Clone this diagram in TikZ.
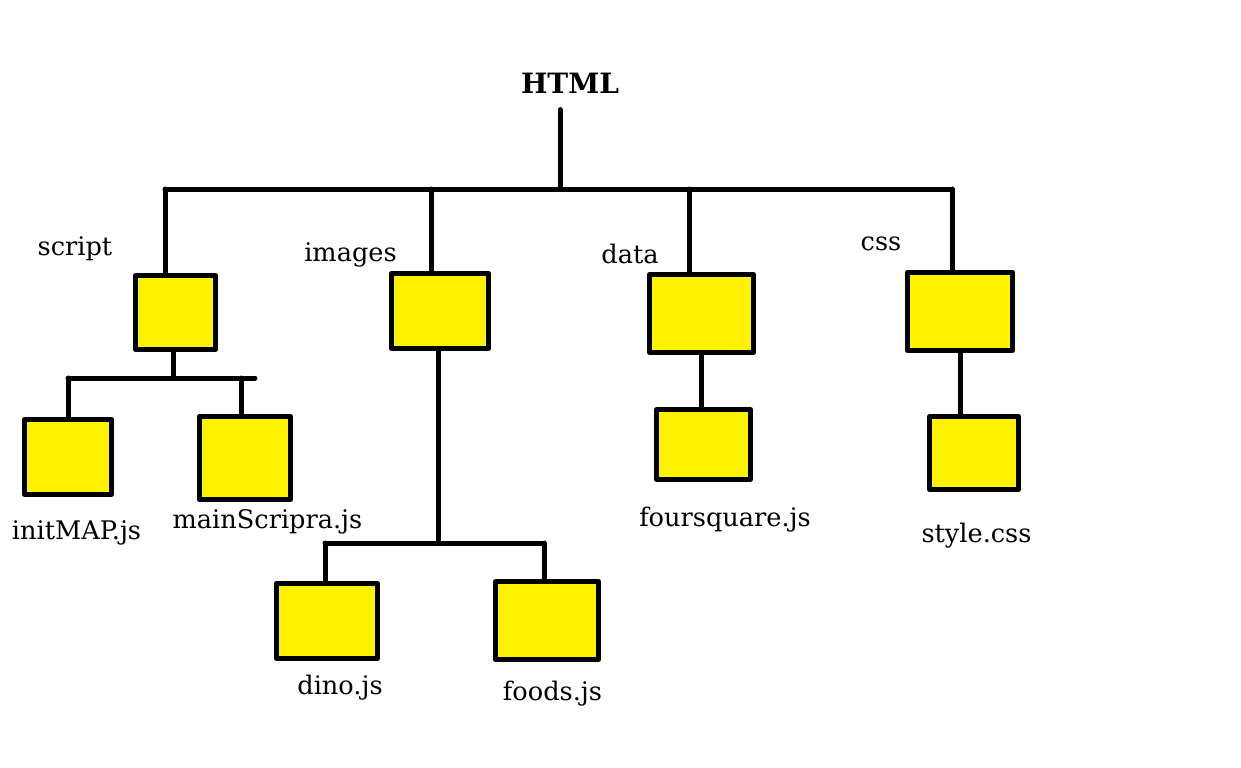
\documentclass[tikz,border=0pt]{standalone}
\usepackage{fontspec}
\setmainfont{DejaVu Serif}
\definecolor{paintyellow}{RGB}{255,242,0}
\tikzset{
  folder/.style={draw, fill=paintyellow, line width=2.5pt, inner sep=0pt},
  filelabel/.style={inner sep=0pt, anchor=base, font=\fontsize{12.8}{15}\selectfont},
  wire/.style={line width=2.5pt}
}
\begin{document}
\begin{tikzpicture}[x=0.5pt, y=-0.5pt, line cap=round, line join=round]
\useasboundingbox (0,0) rectangle (1241,767);
%\draw[help lines, step=50] (0,0) grid (1241,767);
\node [font=\fontsize{14}{16}\selectfont\bfseries, inner sep=8pt] (html) at (570,83) {HTML};

\coordinate (top) at (560,189);
\coordinate (jscript) at (165,189);
\coordinate (jimages) at (431,189);
\coordinate (jdata) at (689,189);
\coordinate (jcss) at (952,189);

% folders
\node [folder, minimum width=40pt, minimum height=37pt] (script) at (175.5,312.5) {};
\node [folder, minimum width=48.5pt, minimum height=37.5pt] (images) at (440,311) {};
\node [folder, minimum width=52pt, minimum height=39pt] (data) at (701.5,313.5) {};
\node [folder, minimum width=52.5pt, minimum height=39pt] (css) at (960,311.5) {};
% files
\node [folder, minimum width=43.5pt, minimum height=37.5pt] (init) at (68,457) {};
\node [folder, minimum width=45.5pt, minimum height=41.5pt] (main) at (245,458) {};
\node [folder, minimum width=47pt, minimum height=35pt] (four) at (703.5,444.5) {};
\node [folder, minimum width=44.5pt, minimum height=36.5pt] (style) at (974,453) {};
\node [folder, minimum width=50.5pt, minimum height=37.5pt] (dino) at (327,621) {};
\node [folder, minimum width=51.5pt, minimum height=39pt] (foods) at (547,620.5) {};

\node [filelabel] (scriptname) at (75,255) {script};
\node [filelabel] (imagesname) at (350.5,261) {images};
\node [filelabel] (dataname) at (630,263) {data};
\node [filelabel] (cssname) at (881,250) {css};
\node [filelabel] (initname) at (76.5,539) {initMAP.js};
\node [filelabel] (mainname) at (267.5,528) {mainScripra.js};
\node [filelabel] (fourname) at (725,526) {foursquare.js};
\node [filelabel] (stylename) at (976.5,542) {style.css};
\node [filelabel] (dinoname) at (340,694) {dino.js};
\node [filelabel] (foodsname) at (552.5,700) {foods.js};

\draw [wire] (html.south -| top) -- (top);
\draw [wire] (jscript) -- (jcss);
\foreach \j/\b in {jscript/script, jimages/images, jdata/data, jcss/css}
  \draw [wire] (\j) -- (\b.north -| \j);

\coordinate (sfork) at (173,378);
\coordinate (sleft) at (68,378);
\coordinate (sright) at (255,378);
\coordinate (smain) at (241,378);
\draw [wire] (script.south -| sfork) -- (sfork);
\draw [wire] (sleft) -- (sright);
\draw [wire] (sleft) -- (init.north -| sleft);
\draw [wire] (smain) -- (main.north -| smain);

\coordinate (ifork) at (438,543);
\coordinate (ileft) at (325,543);
\coordinate (iright) at (544,543);
\draw [wire] (images.south -| ifork) -- (ifork);
\draw [wire] (ileft) -- (iright);
\draw [wire] (ileft) -- (dino.north -| ileft);
\draw [wire] (iright) -- (foods.north -| iright);

\draw [wire] (data.south) -- (data.south |- four.north);
\draw [wire] (css.south) -- (css.south |- style.north);
\end{tikzpicture}
\end{document}
